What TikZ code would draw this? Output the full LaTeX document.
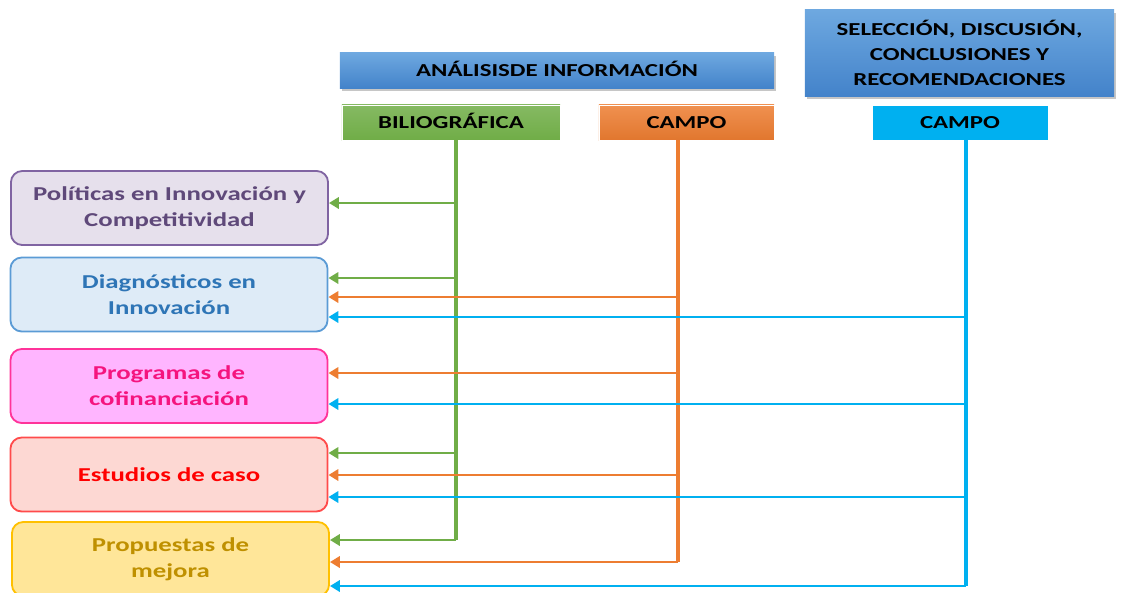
\documentclass[tikz,border=0pt]{standalone}
\usepackage{fontspec}
\setmainfont{Carlito}[FakeStretch=1.36]
\usetikzlibrary{arrows.meta,shadows}

\definecolor{hdrTop}{HTML}{6EA8E0}
\definecolor{hdrBot}{HTML}{4383CA}
\definecolor{grnC}{HTML}{70AD47}
\definecolor{orgC}{HTML}{ED7D31}
\definecolor{cynC}{HTML}{00B0F0}
\definecolor{polD}{HTML}{8064A2}\definecolor{polF}{HTML}{E6E0EC}\definecolor{polT}{HTML}{5F497A}
\definecolor{diaD}{HTML}{5B9BD5}\definecolor{diaF}{HTML}{DEEBF7}\definecolor{diaT}{HTML}{2E75B6}
\definecolor{proD}{HTML}{FF3399}\definecolor{proF}{HTML}{FFB5FF}\definecolor{proT}{HTML}{F5147E}
\definecolor{estD}{HTML}{FF4B4B}\definecolor{estF}{HTML}{FDD8D3}\definecolor{estT}{HTML}{FF0000}
\definecolor{mejD}{HTML}{FFC000}\definecolor{mejF}{HTML}{FFE699}\definecolor{mejT}{HTML}{BF9000}

\begin{document}
\begin{tikzpicture}[x=0.025cm,y=-0.025cm,
    header/.style={draw=none,top color=hdrTop,bottom color=hdrBot,
        drop shadow={shadow xshift=1.5pt,shadow yshift=-2pt,opacity=0.45},
        font=\fontsize{13}{17.8}\selectfont\bfseries,align=center,inner sep=0pt},
    source/.style={draw=white,line width=0.6pt,minimum height=0.875cm,inner sep=0pt,
        text height=8.4pt,text depth=0pt,
        font=\fontsize{13}{17.8}\selectfont\bfseries},
    topic/.style={rounded corners=8pt,line width=1.3pt,minimum width=7.925cm,
        minimum height=1.85cm,align=center,inner sep=0pt,
        font=\fontsize{14}{18.5}\selectfont\bfseries},
    vline/.style={line width=2.2pt},
    harrow/.style={line width=1.8pt,-{Triangle[length=7pt,width=8pt]}}
]
\useasboundingbox (0,0) rectangle (1128,592);
% Headers
\node[header,minimum width=10.85cm,minimum height=0.875cm,text height=8.4pt,text depth=0pt] (ana) at (557,70.5)
    {ANÁLISISDE INFORMACIÓN};
\node[header,minimum width=7.725cm,minimum height=2.15cm] (sel) at (959.5,53)
    {SELECCIÓN, DISCUSIÓN,\\CONCLUSIONES Y\\RECOMENDACIONES};
% Sources
\node[source,minimum width=5.45cm,top color=grnC!85!white,bottom color=grnC] (bib) at (451,122.5) {BILIOGRÁFICA};
\node[source,minimum width=4.375cm,top color=orgC!85!white,bottom color=orgC!95!black] (cam) at (686.5,122.5) {CAMPO};
\node[source,minimum width=4.4cm,fill=cynC] (cmp) at (960,122.5) {CAMPO};
% Topics
\node[topic,draw=polD,fill=polF,text=polT] (pol) at (169.5,208)
    {Políticas en Innovación y\\Competitividad};
\node[topic,draw=diaD,fill=diaF,text=diaT] (diag) at (169,294.5)
    {Diagnósticos en\\Innovación};
\node[topic,draw=proD,fill=proF,text=proT] (prog) at (169,386)
    {Programas de\\cofinanciación};
\node[topic,draw=estD,fill=estF,text=estT] (est) at (169,474.5)
    {Estudios de caso};
\node[topic,draw=mejD,fill=mejF,text=mejT] (prop) at (170.5,559)
    {Propuestas de\\mejora};
% Line ends
\coordinate (gEnd) at (456,540);
\coordinate (oEnd) at (678,562);
\coordinate (cEnd) at (966,586);
% Connections
\draw[vline,grnC] (bib.south -| gEnd) -- (gEnd);
\draw[vline,orgC] (cam.south -| oEnd) -- (oEnd);
\draw[vline,cynC] (cmp.south -| cEnd) -- (cEnd);
\foreach \y/\t in {203/pol,278/diag,453/est,540/prop}
    \draw[harrow,grnC] (gEnd |- 0,\y) -- (\t.east |- 0,\y);
\foreach \y/\t in {297/diag,373/prog,475/est,562/prop}
    \draw[harrow,orgC] (oEnd |- 0,\y) -- (\t.east |- 0,\y);
\foreach \y/\t in {317/diag,404/prog,497/est,586/prop}
    \draw[harrow,cynC] (cEnd |- 0,\y) -- (\t.east |- 0,\y);
\end{tikzpicture}
\end{document}
